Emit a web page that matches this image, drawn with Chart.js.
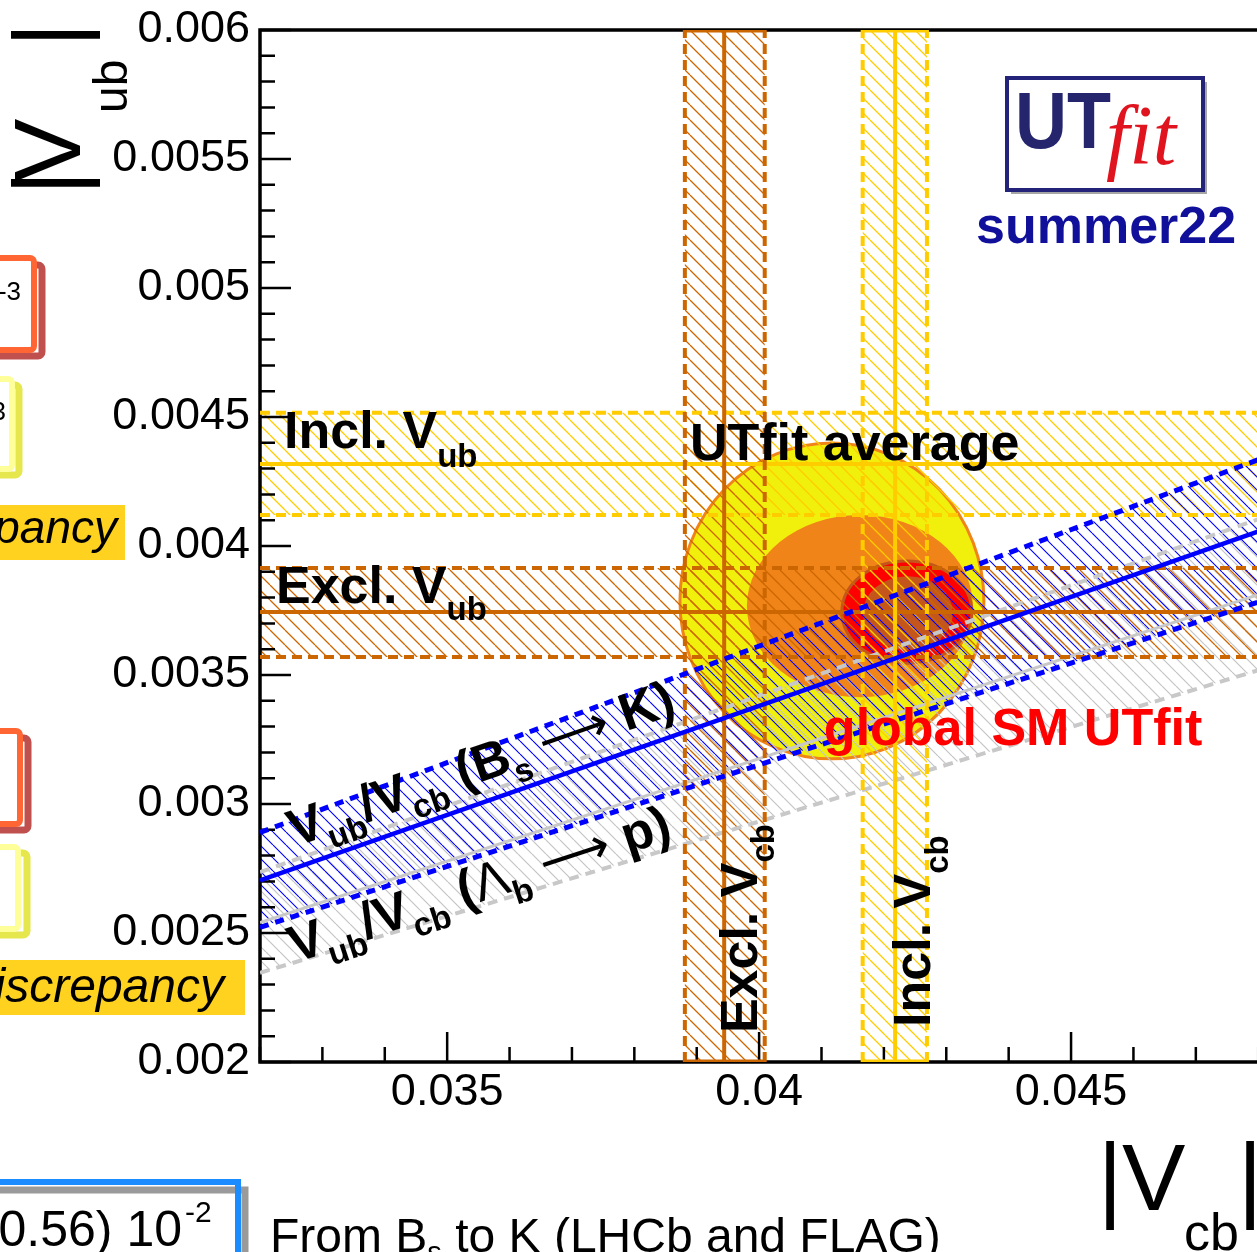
<!DOCTYPE html>
<html lang="en">
<head>
  <meta charset="UTF-8" />
  <title>UTfit summer22 - |Vub| vs |Vcb|</title>
  <script src="https://cdn.jsdelivr.net/npm/chart.js"></script>
  <style>
    html, body { margin: 0; padding: 0; background: #fff; overflow: hidden; }
    #plot { position: absolute; left: 0; top: 0; }
  </style>
</head>
<body>
<canvas id="plot" width="1400" height="1252"></canvas>
<script>
  // axis ranges and tick labels
  const vcbRange = [0.032, 0.05];
  const vubRange = [0.002, 0.006];
  const xTickLabels = [0.035, 0.04, 0.045];
  const yTickLabels = [0.002, 0.0025, 0.003, 0.0035, 0.004, 0.0045, 0.005, 0.0055, 0.006];

  // measurements: [low, central, high]
  const exclVcb = [0.03881, 0.03944, 0.04009];
  const inclVcb = [0.04166, 0.04218, 0.04269];
  const exclVub = [0.00357, 0.003744, 0.003915];
  const inclVub = [0.00412, 0.004318, 0.004516];
  // |Vub/Vcb| ratios: [low, central, high]
  const ratioBsK = [0.0788, 0.0845, 0.0903];
  const ratioLbP = [0.0733, 0.0794, 0.0855];

  // global SM fit contours (outer -> inner): centre and half widths
  const contourCx = [0.041167, 0.041615, 0.042369, 0.042385];
  const contourCy = [0.003787, 0.003767, 0.003744, 0.00374];
  const contourRx = [0.002436, 0.001811, 0.001042, 0.000721];
  const contourRy = [0.000612, 0.000353, 0.000198, 0.000143];

  const FONT = '"Liberation Sans", Arial, Helvetica, sans-serif';
  const EXCL = '#cc6600', INCL = '#ffcc00', BLUE = '#0000ff', GREY = '#c8c8c8';
  const contourFill = ['#f0f00c', '#f08418', '#ff0000', '#c4561c'];
  const contourEdge = ['#f08418', null, '#c4561c', null];

  Chart.defaults.font.family = FONT;

  function hLine(y, color, width, dash, order) {
    return { data: [{ x: vcbRange[0], y }, { x: vcbRange[1], y }], showLine: true,
      borderColor: color, borderWidth: width, borderDash: dash, pointRadius: 0, order };
  }
  function vLine(x, color, width, dash, order) {
    return { data: [{ x, y: vubRange[0] }, { x, y: vubRange[1] }], showLine: true,
      borderColor: color, borderWidth: width, borderDash: dash, pointRadius: 0, order };
  }
  function capLine(band, y, color, order) {
    return { data: [{ x: band[0], y }, { x: band[2], y }], showLine: true,
      borderColor: color, borderWidth: 5, pointRadius: 0, order };
  }
  function rLine(r, color, width, dash, order) {
    return { data: [{ x: vcbRange[0], y: r * vcbRange[0] }, { x: vcbRange[1], y: r * vcbRange[1] }],
      showLine: true, borderColor: color, borderWidth: width, borderDash: dash, pointRadius: 0, order };
  }

  const datasets = [
    rLine(ratioLbP[0], GREY, 4, [10, 7], 6),
    rLine(ratioLbP[1], GREY, 3, [], 6),
    rLine(ratioLbP[2], GREY, 4, [10, 7], 6),
    hLine(exclVub[0], EXCL, 4, [10, 6], 4),
    hLine(exclVub[1], EXCL, 4, [], 4),
    hLine(exclVub[2], EXCL, 4, [10, 6], 4),
    hLine(inclVub[0], INCL, 4, [10, 6], 4),
    hLine(inclVub[1], INCL, 4, [], 4),
    hLine(inclVub[2], INCL, 4, [10, 6], 4),
    vLine(exclVcb[0], EXCL, 4, [10, 6], 3),
    vLine(exclVcb[1], EXCL, 4, [], 3),
    vLine(exclVcb[2], EXCL, 4, [10, 6], 3),
    capLine(exclVcb, vubRange[0], EXCL, 3),
    capLine(exclVcb, vubRange[1], EXCL, 3),
    vLine(inclVcb[0], INCL, 4, [10, 6], 3),
    vLine(inclVcb[1], INCL, 4, [], 3),
    vLine(inclVcb[2], INCL, 4, [10, 6], 3),
    capLine(inclVcb, vubRange[0], INCL, 3),
    capLine(inclVcb, vubRange[1], INCL, 3),
    rLine(ratioBsK[0], BLUE, 5, [9, 7], 1),
    rLine(ratioBsK[1], BLUE, 4.5, [], 1),
    rLine(ratioBsK[2], BLUE, 5, [9, 7], 1)
  ];

  function hatch(ctx, color, step, width) {
    const c = document.createElement('canvas');
    c.width = step; c.height = step;
    const g = c.getContext('2d');
    g.strokeStyle = color; g.lineWidth = width;
    g.beginPath();
    for (const o of [-step, 0, step]) { g.moveTo(o, 0); g.lineTo(o + step, step); }
    g.stroke();
    return ctx.createPattern(c, 'repeat');
  }

  function fillPoly(chart, pts, fill) {
    const { ctx, scales } = chart;
    ctx.beginPath();
    pts.forEach(([x, y], i) => {
      const px = scales.x.getPixelForValue(x), py = scales.y.getPixelForValue(y);
      if (i) ctx.lineTo(px, py); else ctx.moveTo(px, py);
    });
    ctx.closePath();
    ctx.fillStyle = fill;
    ctx.fill();
  }

  const hBand = b => [[vcbRange[0], b[0]], [vcbRange[1], b[0]], [vcbRange[1], b[2]], [vcbRange[0], b[2]]];
  const vBand = b => [[b[0], vubRange[0]], [b[2], vubRange[0]], [b[2], vubRange[1]], [b[0], vubRange[1]]];
  const rBand = b => [[vcbRange[0], b[0] * vcbRange[0]], [vcbRange[1], b[0] * vcbRange[1]],
                      [vcbRange[1], b[2] * vcbRange[1]], [vcbRange[0], b[2] * vcbRange[0]]];

  // text made of pieces (subscripts), drawn along a rotated baseline
  function rich(ctx, x, y, angle, parts, color) {
    ctx.save();
    ctx.translate(x, y);
    ctx.rotate(angle);
    ctx.fillStyle = color || '#000';
    ctx.textAlign = 'left';
    ctx.textBaseline = 'alphabetic';
    let cx = 0;
    for (const p of parts) {
      const fam = p.arrow ? '"DejaVu Sans", sans-serif' : FONT;
      ctx.font = `${p.italic ? 'italic ' : ''}${p.bold === false ? 'normal' : 'bold'} ${p.size || 52}px ${fam}`;
      cx += p.dx || 0;
      ctx.fillText(p.t, cx, p.dy || 0);
      cx += ctx.measureText(p.t).width;
    }
    ctx.restore();
  }

  const bandsPlugin = {
    id: 'bands',
    beforeDatasetsDraw(chart) {
      const { ctx, chartArea: a, scales } = chart;
      const xs = scales.x, ys = scales.y;
      ctx.save();
      ctx.beginPath();
      ctx.rect(a.left, a.top, a.right - a.left, a.bottom - a.top);
      ctx.clip();

      // fit contours
      contourCx.forEach((cxv, i) => {
        const cx = xs.getPixelForValue(cxv), cy = ys.getPixelForValue(contourCy[i]);
        const rx = Math.abs(xs.getPixelForValue(cxv + contourRx[i]) - cx);
        const ry = Math.abs(ys.getPixelForValue(contourCy[i] + contourRy[i]) - cy);
        ctx.beginPath();
        ctx.ellipse(cx, cy, rx, ry, 0, 0, Math.PI * 2);
        ctx.fillStyle = contourFill[i];
        ctx.fill();
        if (contourEdge[i]) { ctx.strokeStyle = contourEdge[i]; ctx.lineWidth = 3; ctx.stroke(); }
      });

      // hatched bands
      fillPoly(chart, rBand(ratioLbP), hatch(ctx, '#c4c4c4', 14, 1.2));
      fillPoly(chart, hBand(exclVub), hatch(ctx, EXCL, 15, 1.3));
      fillPoly(chart, hBand(inclVub), hatch(ctx, INCL, 15, 1.3));
      fillPoly(chart, vBand(exclVcb), hatch(ctx, EXCL, 15, 1.3));
      fillPoly(chart, vBand(inclVcb), hatch(ctx, INCL, 15, 1.3));
      fillPoly(chart, rBand(ratioBsK), hatch(ctx, BLUE, 13, 1.1));
      ctx.restore();

      // frame and inward ticks
      ctx.save();
      ctx.strokeStyle = '#000';
      ctx.lineWidth = 2.5;
      ctx.beginPath();
      for (let i = 0; ; i++) {
        const v = vubRange[0] + i * 0.0001;
        if (v > vubRange[1] + 1e-9) break;
        const py = ys.getPixelForValue(v);
        ctx.moveTo(a.left, py);
        ctx.lineTo(a.left + (i % 5 === 0 ? 31 : 15), py);
      }
      for (let i = 0; ; i++) {
        const v = vcbRange[0] + i * 0.001;
        if (v > vcbRange[1] + 1e-9) break;
        const px = xs.getPixelForValue(v);
        ctx.moveTo(px, a.bottom);
        ctx.lineTo(px, a.bottom - ((i + 32) % 5 === 0 ? 30 : 15));
      }
      ctx.stroke();
      ctx.lineWidth = 3.5;
      ctx.strokeRect(a.left, a.top, a.right - a.left, a.bottom - a.top);
      ctx.restore();
    },
    afterDatasetsDraw(chart) {
      const { ctx, scales } = chart;
      const xs = scales.x, ys = scales.y;
      const P = (x, y) => [xs.getPixelForValue(x), ys.getPixelForValue(y)];
      const slope = r => Math.atan2(ys.getPixelForValue(r * vcbRange[1]) - ys.getPixelForValue(r * vcbRange[0]),
                                    xs.getPixelForValue(vcbRange[1]) - xs.getPixelForValue(vcbRange[0]));

      rich(ctx, ...P(0.032385, 0.00438), 0, [{ t: 'Incl. V' }, { t: 'ub', size: 33, dy: 19 }]);
      rich(ctx, ...P(0.032256, 0.003779), 0, [{ t: 'Excl. V' }, { t: 'ub', size: 33, dy: 17 }]);
      rich(ctx, ...P(0.038891, 0.004333), 0, [{ t: 'UTfit average' }]);
      rich(ctx, ...P(0.041038, 0.003229), 0, [{ t: 'global SM UTfit' }], '#ff0000');

      rich(ctx, ...P(0.032561, 0.002833), slope(ratioBsK[1]), [
        { t: 'V' }, { t: 'ub', size: 33, dy: 14 }, { t: '/V' }, { t: 'cb', size: 33, dy: 14 },
        { t: ' (B' }, { t: 's', size: 33, dy: 14 }, { t: ' ' }, { t: '\u27F6', bold: false, arrow: true, size: 50 },
        { t: ' K)' }]);
      rich(ctx, ...P(0.032561, 0.002384), slope(ratioLbP[1]), [
        { t: 'V' }, { t: 'ub', size: 33, dy: 14 }, { t: '/V' }, { t: 'cb', size: 33, dy: 14 },
        { t: ' (' }, { t: '\u039B', bold: false }, { t: 'b', size: 33, dy: 14 }, { t: ' ' },
        { t: '\u27F6', bold: false, arrow: true, size: 50 }, { t: ' p)' }]);

      rich(ctx, ...P(0.039965, 0.002112), -Math.PI / 2, [{ t: 'Excl. V' }, { t: 'cb', size: 33, dy: 17 }]);
      rich(ctx, ...P(0.042737, 0.002136), -Math.PI / 2, [{ t: 'Incl. V' }, { t: 'cb', size: 33, dy: 18 }]);
    },
    afterDraw(chart) {
      const ctx = chart.ctx;
      ctx.save();

      // axis titles
      ctx.fillStyle = '#000';
      ctx.textBaseline = 'alphabetic';
      ctx.save();
      ctx.translate(80, 0);
      ctx.rotate(-Math.PI / 2);
      ctx.font = `95px ${FONT}`;
      ctx.textAlign = 'center';
      ctx.fillText('|', -183, 0);
      ctx.fillText('|', -35, 0);
      ctx.textAlign = 'left';
      ctx.fillText('V', -182, 0);
      ctx.font = `48px ${FONT}`;
      ctx.fillText('ub', -113, 47);
      ctx.restore();

      ctx.font = `95px ${FONT}`;
      ctx.textAlign = 'center';
      ctx.fillText('|', 1110, 1210);
      ctx.fillText('|', 1250, 1210);
      ctx.textAlign = 'left';
      ctx.fillText('V', 1122, 1210);
      ctx.font = `52px ${FONT}`;
      ctx.fillText('cb', 1184, 1250);

      // logo
      ctx.fillStyle = 'rgba(0,0,0,0.35)';
      ctx.fillRect(1011, 82, 196, 112);
      ctx.fillStyle = '#fff';
      ctx.fillRect(1007, 78, 196, 112);
      ctx.strokeStyle = '#23237a';
      ctx.lineWidth = 4;
      ctx.strokeRect(1007, 78, 196, 112);
      ctx.save();
      ctx.translate(1015, 148);
      ctx.scale(0.9, 1);
      ctx.fillStyle = '#25256e';
      ctx.font = `bold 80px ${FONT}`;
      ctx.fillText('UT', 0, 0);
      ctx.restore();
      ctx.fillStyle = '#e0141e';
      ctx.font = `italic 84px "Liberation Serif", "Times New Roman", serif`;
      ctx.fillText('fit', 1106, 164);
      ctx.fillStyle = '#10109a';
      ctx.font = `bold 52px ${FONT}`;
      ctx.fillText('summer22', 976, 243);

      // neighbouring panel remnants on the left
      const box = (x0, y0, x1, y1, color, lw, fill) => {
        ctx.beginPath();
        ctx.roundRect(x0, y0, x1 - x0, y1 - y0, 4);
        if (fill) { ctx.fillStyle = fill; ctx.fill(); }
        ctx.strokeStyle = color; ctx.lineWidth = lw; ctx.stroke();
      };
      box(-30, 265, 42, 356, '#c0504d', 7);
      box(-30, 258, 34, 350, '#ff6633', 6, '#fff');
      box(-30, 385, 19, 475, '#e6e64d', 7);
      box(-30, 379, 12, 469, '#ffff99', 6, '#fff');
      box(-30, 738, 28, 830, '#c0504d', 7);
      box(-30, 731, 20, 824, '#ff6633', 6, '#fff');
      box(-30, 853, 27, 935, '#e6e64d', 7);
      box(-30, 847, 18, 929, '#ffff99', 6, '#fff');
      ctx.fillStyle = '#000';
      ctx.font = `26px ${FONT}`;
      ctx.textAlign = 'right';
      ctx.fillText('-3', 21, 300);
      ctx.fillText('3', 6, 420);

      ctx.fillStyle = '#ffd21f';
      ctx.fillRect(0, 505, 125, 55);
      ctx.fillRect(0, 960, 245, 55);
      ctx.fillStyle = '#000';
      ctx.font = `italic 46px ${FONT}`;
      ctx.fillText('pancy', 117, 543);
      ctx.font = `italic 48px ${FONT}`;
      ctx.fillText('iscrepancy', 224, 1002);

      // bottom remnants
      ctx.strokeStyle = '#9a9a9a'; ctx.lineWidth = 7;
      ctx.strokeRect(-30, 1190, 275, 120);
      ctx.strokeStyle = '#1a8cff'; ctx.lineWidth = 6;
      ctx.strokeRect(-30, 1182, 268, 120);
      ctx.fillStyle = '#000';
      ctx.font = `50px ${FONT}`;
      ctx.textAlign = 'right';
      ctx.fillText('0.56) 10', 182, 1246);
      ctx.textAlign = 'left';
      ctx.font = `30px ${FONT}`;
      ctx.fillText('-2', 185, 1222);

      ctx.font = `48px ${FONT}`;
      ctx.fillText('From B', 270, 1252);
      let w = 270 + ctx.measureText('From B').width;
      ctx.font = `29px ${FONT}`;
      ctx.fillText('s', w, 1262);
      w += ctx.measureText('s').width;
      ctx.font = `48px ${FONT}`;
      ctx.fillText(' to K (LHCb and FLAG)', w, 1252);
      ctx.restore();
    }
  };

  new Chart(document.getElementById('plot'), {
    type: 'scatter',
    data: { datasets },
    options: {
      responsive: false,
      animation: false,
      events: [],
      layout: { padding: { top: 30, right: 17, bottom: 0, left: 0 } },
      plugins: { legend: { display: false }, tooltip: { enabled: false } },
      elements: { point: { radius: 0 }, line: { tension: 0 } },
      scales: {
        x: {
          type: 'linear', min: vcbRange[0], max: vcbRange[1],
          grid: { display: false, drawTicks: false }, border: { display: false },
          ticks: { color: '#000', font: { size: 45 }, padding: 4, callback: v => String(v) },
          afterBuildTicks: s => { s.ticks = xTickLabels.map(v => ({ value: v })); },
          afterFit: s => { s.height = 190; s.paddingLeft = 0; s.paddingRight = 0; }
        },
        y: {
          type: 'linear', min: vubRange[0], max: vubRange[1],
          grid: { display: false, drawTicks: false }, border: { display: false },
          ticks: { color: '#000', font: { size: 45 }, padding: 10, callback: v => String(v) },
          afterBuildTicks: s => { s.ticks = yTickLabels.map(v => ({ value: v })); },
          afterFit: s => { s.width = 260; s.paddingTop = 0; s.paddingBottom = 0; }
        }
      }
    },
    plugins: [bandsPlugin]
  });
</script>
</body>
</html>
